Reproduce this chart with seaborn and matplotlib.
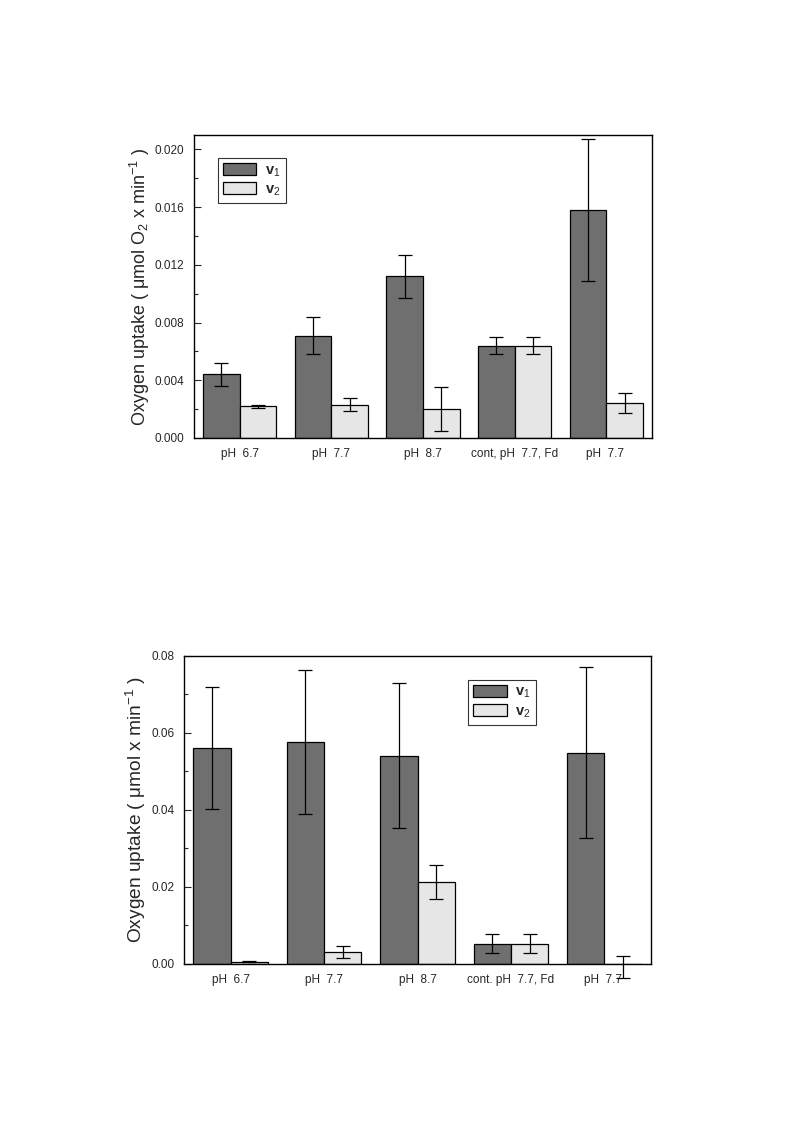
import numpy as np
import pandas as pd
import seaborn as sns
import matplotlib.pyplot as plt
from matplotlib.ticker import MultipleLocator

# top panel
top_groups = ["pH  6.7", "pH  7.7", "pH  8.7", "cont, pH  7.7, Fd", "pH  7.7 "]
top_v1 = [0.0044, 0.0071, 0.0112, 0.0064, 0.0158]
top_v1_err = [0.0008, 0.0013, 0.0015, 0.0006, 0.0049]
top_v2 = [0.0022, 0.0023, 0.0020, 0.0064, 0.0024]
top_v2_err = [0.0001, 0.00045, 0.0015, 0.0006, 0.0007]

# bottom panel
bot_groups = ["pH  6.7", "pH  7.7", "pH  8.7", "cont. pH  7.7, Fd", "pH  7.7 "]
bot_v1 = [0.0561, 0.0577, 0.0541, 0.0053, 0.0549]
bot_v1_err = [0.0158, 0.0187, 0.0188, 0.0025, 0.0222]
bot_v2 = [0.0006, 0.0031, 0.0212, 0.0053, -0.0008]
bot_v2_err = [0.0002, 0.0015, 0.0044, 0.0025, 0.0029]

series = ["v$_1$", "v$_2$"]
colors = ["#6f6f6f", "#e6e6e6"]

sns.set_style("ticks")
plt.rcParams['font.family'] = ['Liberation Sans', 'DejaVu Sans']
plt.rcParams['mathtext.fontset'] = 'custom'
plt.rcParams['mathtext.rm'] = 'Liberation Sans'
plt.rcParams['mathtext.it'] = 'Liberation Sans:italic'
plt.rcParams['mathtext.bf'] = 'Liberation Sans:bold'


def make_df(groups, v1, v2):
    return pd.DataFrame({
        'group': list(groups) * 2,
        'series': [series[0]] * len(groups) + [series[1]] * len(groups),
        'value': list(v1) + list(v2),
    })


def panel(ax, groups, v1, e1, v2, e2, ylim, major, minor, fmt, ylabel, lsize, leg_anchor):
    df = make_df(groups, v1, v2)
    sns.barplot(data=df, x='group', y='value', hue='series', order=groups,
                hue_order=series, palette=colors, edgecolor='black',
                linewidth=0.9, errorbar=None, width=0.8, saturation=1, ax=ax)
    for cont, err in zip(ax.containers, [e1, e2]):
        xs = [b.get_x() + b.get_width() / 2 for b in cont]
        ys = [b.get_y() + b.get_height() for b in cont]
        eb = ax.errorbar(xs, ys, yerr=err, fmt='none', ecolor='black',
                         elinewidth=0.9, capsize=5, capthick=0.9, zorder=5)
        for art in eb.lines[1] + eb.lines[2]:
            art.set_clip_on(False)
    ax.set_xlim(-0.5, 4.5)
    ax.set_ylim(*ylim)
    ax.yaxis.set_major_locator(MultipleLocator(major))
    ax.yaxis.set_minor_locator(MultipleLocator(minor))
    ax.yaxis.set_major_formatter(plt.FormatStrFormatter(fmt))
    ax.tick_params(axis='y', which='major', direction='in', length=5, width=0.8,
                   labelsize=8.5, pad=7)
    ax.tick_params(axis='y', which='minor', direction='in', length=3, width=0.8)
    ax.tick_params(axis='x', length=0, labelsize=8.5, pad=7)
    ax.set_xlabel("")
    ax.set_ylabel(ylabel, fontsize=lsize, labelpad=2)
    for s in ax.spines.values():
        s.set_visible(True)
        s.set_linewidth(1.0)
        s.set_color('black')
    leg = ax.legend(loc='upper left', bbox_to_anchor=leg_anchor, borderaxespad=0,
                    frameon=True, fancybox=False, edgecolor='black',
                    handlelength=2.3, handleheight=0.85,
                    handletextpad=0.6, labelspacing=0.25, borderpad=0.35,
                    prop={'weight': 'bold', 'size': 10.5})
    leg.get_frame().set_linewidth(0.8)


fig = plt.figure(figsize=(7.93, 11.23), dpi=100)
ax1 = fig.add_axes([0.2446, 0.6100, 0.5776, 0.2698])
ax2 = fig.add_axes([0.2320, 0.1416, 0.5890, 0.2743])

panel(ax1, top_groups, top_v1, top_v1_err, top_v2, top_v2_err,
      (0, 0.021), 0.004, 0.002, '%.3f',
      "Oxygen uptake ( μmol O$_2$ x min$^{-1}$ )", 13, (0.052, 0.924))
panel(ax2, bot_groups, bot_v1, bot_v1_err, bot_v2, bot_v2_err,
      (0, 0.08), 0.02, 0.01, '%.2f',
      "Oxygen uptake ( μmol x min$^{-1}$ )", 13.8, (0.608, 0.922))

fig.savefig("out.png", dpi=100)
